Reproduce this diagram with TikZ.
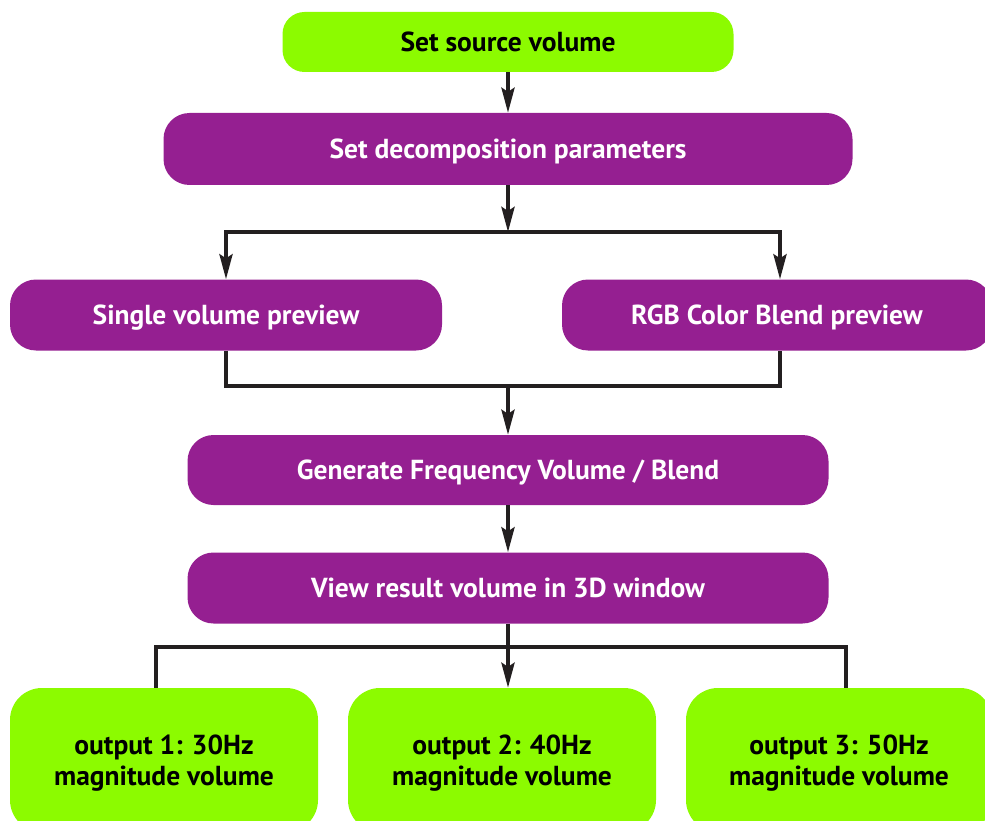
\documentclass[tikz,border=0pt]{standalone}
\usepackage{fontspec}
\setmainfont{PT Sans}
\usetikzlibrary{arrows.meta}
\definecolor{lgreen}{RGB}{140,251,0}
\definecolor{purp}{RGB}{149,31,145}
\definecolor{dk}{RGB}{35,31,32}
\begin{document}
\begin{tikzpicture}[x=1pt,y=-1pt,
  box/.style={rounded corners=26pt, draw=none, inner sep=0pt, align=center,
    text depth=0pt, font=\bfseries\fontsize{27.5}{31}\selectfont},
  gbox/.style={box, fill=lgreen, text=black},
  pbox/.style={box, fill=purp, text=white},
  conn/.style={draw=dk, line width=4pt, line join=miter},
  tip/.tip={Stealth[length=25pt,width=13pt,inset=4pt]},
  arr/.style={conn, -tip}]
\useasboundingbox (0,0) rectangle (985,821);
\clip (0,0) rectangle (985,821);

\node[gbox, rounded corners=22pt, minimum width=451pt, minimum height=60pt] (src) at (508,42) {Set source volume};
\node[pbox, minimum width=689pt, minimum height=72pt] (dec) at (508,149) {Set decomposition parameters};
\node[pbox, minimum width=432pt, minimum height=71pt] (single) at (226,315) {Single volume preview};
\node[pbox, minimum width=430pt, minimum height=71pt] (rgb) at (777,315) {RGB Color Blend preview};
\node[pbox, minimum width=641pt, minimum height=70pt] (gen) at (508,470) {Generate Frequency Volume / Blend};
\node[pbox, minimum width=641pt, minimum height=71pt] (view) at (508,588) {View result volume in 3D window};
\node[gbox, rounded corners=32pt, minimum width=308pt, minimum height=144pt] (o1) at (164,760) {output 1: 30Hz\\magnitude volume};
\node[gbox, rounded corners=32pt, minimum width=308pt, minimum height=144pt] (o2) at (502,760) {output 2: 40Hz\\magnitude volume};
\node[gbox, rounded corners=32pt, minimum width=306pt, minimum height=144pt] (o3) at (839,760) {output 3: 50Hz\\magnitude volume};

\coordinate (jL) at (226,232);
\coordinate (jR) at (780,232);
\coordinate (mL) at (226,386);
\coordinate (mR) at (780,386);
\coordinate (m) at (508,386);
\coordinate (bL) at (156,647);
\coordinate (bR) at (846,647);

\draw[arr] (src.south) -- (dec.north);
\draw[arr] (dec.south) -- (dec.south |- jL);
\draw[conn, tip-tip] (jL |- single.north) -- (jL) -- (jR) -- (jR |- rgb.north);
\draw[conn] (single.south) -- (mL) -- (mR) -- (mR |- rgb.south);
\draw[arr] (m) -- (gen.north);
\draw[arr] (gen.south) -- (view.north);
\draw[arr] (view.south) -- (view.south |- o2.north);
\draw[conn] (bL |- o1.north) -- (bL) -- (bR) -- (bR |- o3.north);
\end{tikzpicture}
\end{document}
